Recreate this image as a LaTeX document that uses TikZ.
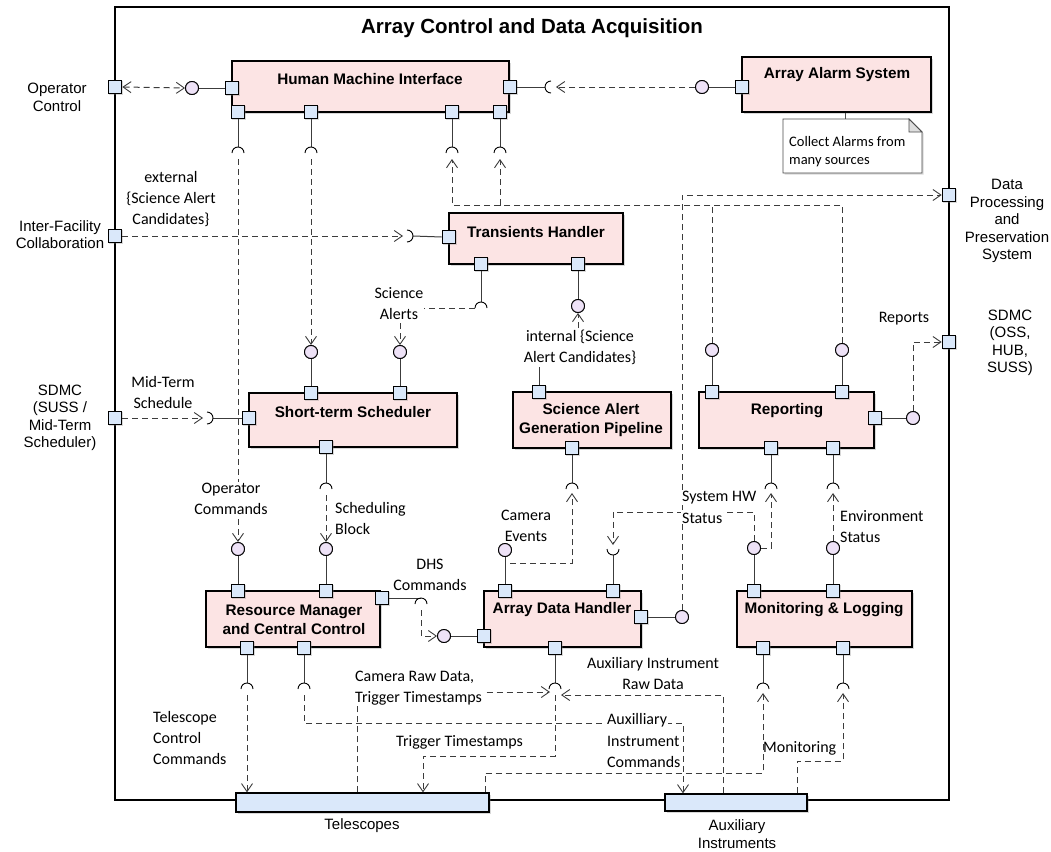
\documentclass[tikz,border=0pt]{standalone}
\usepackage{fontspec}
\setmainfont{Carlito}
\newfontfamily\arialf{Liberation Sans}
\usetikzlibrary{arrows.meta,shadows,calc}
\definecolor{compfill}{RGB}{252,228,228}
\definecolor{portfill}{RGB}{218,232,250}
\definecolor{lolfill}{RGB}{238,226,247}
\definecolor{linec}{RGB}{60,60,60}
\definecolor{notefold}{RGB}{222,222,222}
\newcommand\sockdown[1]{\draw[sock] ($(#1)+(-6,0)$) arc[start angle=180,end angle=0,radius=6pt];}
\newcommand\sockup[1]{\draw[sock] ($(#1)+(-6,0)$) arc[start angle=180,end angle=360,radius=6pt];}
\newcommand\sockright[1]{\draw[sock] ($(#1)+(0,-6)$) arc[start angle=90,end angle=-90,radius=6pt];}
\newcommand\sockleft[1]{\draw[sock] ($(#1)+(0,-6)$) arc[start angle=90,end angle=270,radius=6pt];}
\begin{document}
\begin{tikzpicture}[x=1pt,y=-1pt,
  >={Straight Barb[length=8pt,width=11pt,line width=0.9pt]},
  comp/.style={draw=black, line width=1.3pt, fill=compfill, inner sep=0pt, drop shadow={shadow xshift=2pt, shadow yshift=-2pt, opacity=0.3}},
  port/.style={draw=black, line width=1.1pt, fill=portfill, minimum size=13.5pt, inner sep=0pt, drop shadow={shadow xshift=1pt, shadow yshift=-1pt, opacity=0.3}},
  lolli/.style={circle, draw=black, line width=0.9pt, fill=lolfill, minimum size=13pt, inner sep=0pt},
  sol/.style={draw=linec, line width=1pt},
  dep/.style={draw=linec, line width=1pt, dash pattern=on 6pt off 4pt},
  sock/.style={draw=black, line width=0.9pt},
  ttl/.style={font=\arialf\bfseries\fontsize{15.3}{19}\selectfont, align=center, inner sep=0pt},
  lbl/.style={font=\fontsize{16}{21}\selectfont, align=center, inner sep=1pt},
  lbw/.style={lbl, fill=white},
  side/.style={font=\arialf\fontsize{15}{17.5}\selectfont, align=center, inner sep=0pt},
  bar/.style={draw=black, line width=1.3pt, fill=portfill, inner sep=0pt, drop shadow={shadow xshift=1.5pt, shadow yshift=-1.5pt, opacity=0.3}}
]
\useasboundingbox[fill=white] (0,0) rectangle (1051,851);

% frame
\node[draw=black, line width=1.5pt, minimum width=834pt, minimum height=793pt, inner sep=0pt] (frame) at (532,403.5) {};
\node[font=\arialf\bfseries\fontsize{20.5}{24}\selectfont] (title) at (532,28) {Array Control and Data Acquisition};

% socket centres
\coordinate (sH1) at (238,153);
\coordinate (sH2) at (311,153);
\coordinate (sH3) at (452,153);
\coordinate (sH4) at (500,153);
\coordinate (sHR) at (551,87);
\coordinate (sIF) at (407,236);
\coordinate (sSA) at (481,308);
\coordinate (sMT) at (207,418);
\coordinate (sSTS) at (326,489);
\coordinate (sSAG) at (572,489);
\coordinate (sR1) at (771,489);
\coordinate (sR2) at (833,489);
\coordinate (sADH2) at (613,549);
\coordinate (sDHS) at (421,604);
\coordinate (sRM1) at (247,689);
\coordinate (sRM2) at (304,689);
\coordinate (sADH) at (555,689);
\coordinate (sML1) at (763,689);
\coordinate (sML2) at (843,689);

% lollipops
\node[lolli] (lOC) at (192,88) {};
\node[lolli] (lAA) at (702,87) {};
\node[lolli] (lST1) at (311,352) {};
\node[lolli] (lST2) at (400,352) {};
\node[lolli] (lInt) at (578,306) {};
\node[lolli] (lR1) at (712,350) {};
\node[lolli] (lR2) at (842,350) {};
\node[lolli] (lRep) at (913,418) {};
\node[lolli] (lM1) at (238,549) {};
\node[lolli] (lM2) at (326,549) {};
\node[lolli] (lCE) at (505,550) {};
\node[lolli] (lDHS) at (444,636) {};
\node[lolli] (lDR) at (682,617) {};
\node[lolli] (lSH) at (754,548) {};
\node[lolli] (lEnv) at (833,548) {};

% frame ports
\node[port] (pOC) at (115,87) {};
\node[port] (pIF) at (115,236) {};
\node[port] (pSD) at (115,418) {};
\node[port] (pDP) at (949,195) {};
\node[port] (pSO) at (949,342) {};

% components
\node[comp, minimum width=277pt, minimum height=51pt] (hmi) at (370.5,86.5) {};
\node[comp, minimum width=189pt, minimum height=55pt] (aas) at (836.5,84.5) {};
\node[comp, minimum width=174pt, minimum height=51pt] (th) at (536,238.5) {};
\node[comp, minimum width=208pt, minimum height=54pt] (sts) at (353,420) {};
\node[comp, minimum width=158pt, minimum height=56pt] (sag) at (592,420) {};
\node[comp, minimum width=175pt, minimum height=56pt] (rep) at (786.5,420) {};
\node[comp, minimum width=174pt, minimum height=56pt] (rm) at (293,619) {};
\node[comp, minimum width=157pt, minimum height=56pt] (adh) at (562.5,619) {};
\node[comp, minimum width=175pt, minimum height=56pt] (ml) at (824.5,619) {};

\node[ttl] at (370,79) {Human Machine Interface};
\node[ttl] at (837,75) {Array Alarm System};
\node[ttl] at (536,232) {Transients Handler};
\node[ttl] at (353,412) {Short-term Scheduler};
\node[ttl] at (591,420.5) {Science Alert\\Generation Pipeline};
\node[ttl] at (787,411) {Reporting};
\node[ttl] at (294,620) {Resource Manager\\and Central Control};
\node[ttl] at (562,610) {Array Data Handler};
\node[ttl] at (824,610) {Monitoring \& Logging};

% note
\draw[draw=black!70, line width=0.8pt, fill=white, drop shadow={shadow xshift=1.5pt, shadow yshift=-1.5pt, opacity=0.3}] (783,119) -- (909,119) -- (922,132) -- (922,173) -- (783,173) -- cycle;
\draw[draw=black!70, line width=0.8pt, fill=notefold] (909,119) -- (922,132) -- (909,132) -- cycle;
\node[font=\fontsize{14.5}{18}\selectfont, align=left, anchor=west, inner sep=0pt] (note) at (789,151.5) {Collect Alarms from\\many sources};
\draw[draw=black!70, line width=0.8pt] (aas.south -| 845,0) -- (845,119);

% bars
\node[bar, minimum width=253pt, minimum height=19pt] (tel) at (362.5,802.5) {};
\node[bar, minimum width=142pt, minimum height=17pt] (aux) at (736,802.5) {};

% ports on components
\node[port] (hL) at (232,88) {};
\node[port] (hR) at (510,87) {};
\node[port] (hB1) at (238,112) {};
\node[port] (hB2) at (311,112) {};
\node[port] (hB3) at (452,112) {};
\node[port] (hB4) at (500,112) {};
\node[port] (aL) at (742,87) {};
\node[port] (tL) at (449,237) {};
\node[port] (tB1) at (481,264) {};
\node[port] (tB2) at (578,264) {};
\node[port] (sT1) at (311,393) {};
\node[port] (sT2) at (400,393) {};
\node[port] (sL) at (249,418) {};
\node[port] (sB) at (326,447) {};
\node[port] (gT) at (539,392) {};
\node[port] (gB) at (572,448) {};
\node[port] (rT1) at (712,392) {};
\node[port] (rT2) at (842,392) {};
\node[port] (rR) at (875,418) {};
\node[port] (rB1) at (771,448) {};
\node[port] (rB2) at (833,448) {};
\node[port] (mT1) at (238,591) {};
\node[port] (mT2) at (326,591) {};
\node[port] (mR) at (382,598) {};
\node[port] (mB1) at (247,648) {};
\node[port] (mB2) at (304,648) {};
\node[port] (dT1) at (505,591) {};
\node[port] (dT2) at (613,591) {};
\node[port] (dR) at (641,617) {};
\node[port] (dL) at (484,636) {};
\node[port] (dB) at (555,648) {};
\node[port] (oT1) at (754,591) {};
\node[port] (oT2) at (833,591) {};
\node[port] (oB1) at (763,648) {};
\node[port] (oB2) at (843,648) {};

% solid links port - interface
\draw[sol] (hL) -- (lOC);
\draw[sol] (hR.east) -- ($(sHR)+(-6,0)$);
\draw[sol] (lAA) -- (aL);
\draw[sol] (hB1.south) -- ($(sH1)+(0,-6)$);
\draw[sol] (hB2.south) -- ($(sH2)+(0,-6)$);
\draw[sol] (hB3.south) -- ($(sH3)+(0,-6)$);
\draw[sol] (hB4.south) -- ($(sH4)+(0,-6)$);
\draw[sol] (tL.west) -- ($(sIF)+(6,0)$);
\draw[sol] (tB1.south) -- ($(sSA)+(0,-6)$);
\draw[sol] (tB2) -- (lInt);
\draw[sol] (sT1) -- (lST1);
\draw[sol] (sT2) -- (lST2);
\draw[sol] (sL.west) -- ($(sMT)+(6,0)$);
\draw[sol] (sB.south) -- ($(sSTS)+(0,-6)$);
\draw[sol] (gT.north) -- (539,367);
\draw[sol] (gB.south) -- ($(sSAG)+(0,-6)$);
\draw[sol] (rT1) -- (lR1);
\draw[sol] (rT2) -- (lR2);
\draw[sol] (rR) -- (lRep);
\draw[sol] (rB1.south) -- ($(sR1)+(0,-6)$);
\draw[sol] (rB2.south) -- ($(sR2)+(0,-6)$);
\draw[sol] (mT1) -- (lM1);
\draw[sol] (mT2) -- (lM2);
\draw[sol] (mR.east) -- ($(sDHS)+(0,-6)$);
\draw[sol] (mB1.south) -- ($(sRM1)+(0,-6)$);
\draw[sol] (mB2.south) -- ($(sRM2)+(0,-6)$);
\draw[sol] (dT1) -- (lCE);
\draw[sol] (dT2.north) -- ($(sADH2)+(0,6)$);
\draw[sol] (dR) -- (lDR);
\draw[sol] (dL) -- (lDHS);
\draw[sol] (dB.south) -- ($(sADH)+(0,-6)$);
\draw[sol] (oT1) -- (lSH);
\draw[sol] (oT2) -- (lEnv);
\draw[sol] (oB1.south) -- ($(sML1)+(0,-6)$);
\draw[sol] (oB2.south) -- ($(sML2)+(0,-6)$);

% dependencies
\draw[dep,<->] (pOC.east) -- (lOC.west);
\draw[dep,->] (lAA.west) -- ($(sHR)+(5,0)$);
\draw[dep,->] ($(sH1)+(0,6)$) -- (lM1.north);
\draw[dep,->] ($(sH2)+(0,6)$) -- (lST1.north);
\draw[dep,->] (lR1.north) -- (712,205) -- (452,205) -- ($(sH3)+(0,6)$);
\draw[dep,->] (lR2.north) -- (842,205) -- (500,205) -- ($(sH4)+(0,6)$);
\draw[dep,->] (lDR.north) -- (682,195) -- (pDP.west);
\draw[dep,->] (pIF.east) -- ($(sIF)+(-4,0)$);
\draw[dep,->] ($(sSA)+(-6,0)$) -- (400,308) -- (lST2.north);
\draw[dep,->] (578,338) -- (lInt.south);
\draw[dep,->] (pSD.east) -- ($(sMT)+(-4,0)$);
\draw[dep,->] ($(sSTS)+(0,6)$) -- (lM2.north);
\draw[dep,->] (510,563) -- (572,563) -- ($(sSAG)+(0,4)$);
\draw[dep,->] (lSH.north) -- (754,512) -- (613,512) -- ($(sADH2)+(0,-4)$);
\draw[dep,->] (lSH.east) -- (771,548) -- ($(sR1)+(0,4)$);
\draw[dep,->] (lEnv.north) -- ($(sR2)+(0,4)$);
\draw[dep,->] ($(sDHS)+(0,6)$) -- (421,636) -- (lDHS.west);
\draw[dep,->] ($(sRM1)+(0,6)$) -- (tel.north -| sRM1);
\draw[dep,->] ($(sRM2)+(0,6)$) -- (304,723) -- (683,723) -- (aux.north -| 683,0);
\draw[dep,->] (tel.north -| 357,0) -- (357,692) -- ($(sADH)+(-5,3)$);
\draw[dep,->] (aux.north -| 723,0) -- (723,695) -- ($(sADH)+(6,6)$);
\draw[dep,->] ($(sADH)+(0,6)$) -- (555,756) -- (423,756) -- (tel.north -| 423,0);
\draw[dep,->] (tel.north -| 485,0) -- (485,773) -- (763,773) -- ($(sML1)+(0,4)$);
\draw[dep,->] (aux.north -| 797,0) -- (797,761) -- (843,761) -- ($(sML2)+(0,4)$);
\draw[dep,->] (lRep.north) -- (913,342) -- (pSO.west);

% sockets
\sockdown{sH1}\sockdown{sH2}\sockdown{sH3}\sockdown{sH4}
\sockleft{sHR}
\sockright{sIF}\sockright{sMT}
\sockdown{sSA}\sockdown{sSTS}\sockdown{sSAG}\sockdown{sR1}\sockdown{sR2}
\sockup{sADH2}
\sockdown{sDHS}
\sockdown{sRM1}\sockdown{sRM2}\sockdown{sADH}\sockdown{sML1}\sockdown{sML2}

% redraw lollipops on top
\foreach \p in {lOC, lAA, lST1, lST2, lInt, lR1, lR2, lRep, lM1, lM2, lCE, lDHS, lDR, lSH, lEnv}
  \node[lolli] at (\p) {};

% connector labels
\node[lbl] (lbExt) at (171,199) {external\\\{Science Alert\\Candidates\}};
\node[lbw] (lbSA) at (399,304) {Science\\Alerts};
\node[lbw] (lbInt) at (580,347) {internal \{Science\\Alert Candidates\}};
\node[lbl] (lbMT) at (163,392) {Mid-Term\\Schedule};
\node[lbw] (lbOC) at (231,499) {Operator\\Commands};
\node[lbl, align=left, anchor=west] (lbSB) at (334,518) {Scheduling\\Block};
\node[lbl] (lbCE) at (526,526) {Camera\\Events};
\node[lbw, anchor=west] (lbHW1) at (681,498) {System HW};
\node[lbw, anchor=west] (lbHW2) at (681,518) {Status};
\node[lbl, align=left, anchor=west] (lbEnv) at (839,527) {Environment\\Status};
\node[lbl] (lbDHS) at (430,575) {DHS\\Commands};
\node[lbw, anchor=west] (lbCR1) at (354,677) {Camera Raw Data,};
\node[lbw, anchor=west] (lbCR2) at (354,698) {Trigger Timestamps};
\node[lbl] (lbAR) at (653,673) {Auxiliary Instrument\\Raw Data};
\node[lbl, align=left, anchor=west] (lbTC) at (152,738) {Telescope\\Control\\Commands};
\node[lbl, anchor=west] (lbTT) at (395,742) {Trigger Timestamps};
\node[lbw, anchor=west] (lbAC1) at (606,720) {Auxilliary};
\node[lbw, anchor=west] (lbAC2) at (606,741) {Instrument};
\node[lbw, anchor=west] (lbAC3) at (606,762) {Commands};
\node[lbl, anchor=west] (lbMon) at (762,748) {Monitoring};
\node[lbl] (lbRep) at (904,319) {Reports};

% external actor labels
\node[side] (tOC) at (57,97.5) {Operator\\Control};
\node[side] (tIF) at (60,234.5) {Inter-Facility\\Collaboration};
\node[side] (tSD) at (60,418) {SDMC\\(SUSS /\\Mid-Term\\Scheduler)};
\node[side] (tDP) at (1007,221) {Data\\Processing\\and\\Preservation\\System};
\node[side] (tSO) at (1010,343) {SDMC\\(OSS,\\HUB,\\SUSS)};
\node[side] (tTel) at (362,826) {Telescopes};
\node[side] (tAux) at (737,834) {Auxiliary\\Instruments};
\end{tikzpicture}
\end{document}
